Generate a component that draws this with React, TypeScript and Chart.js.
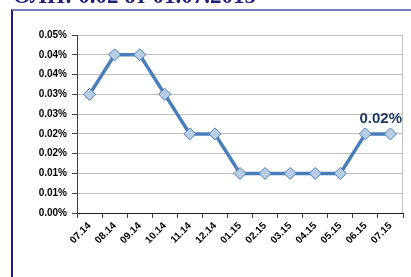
import React, { useEffect, useRef } from "react";
import { Chart, registerables } from "chart.js";

Chart.register(...registerables);

const categories = ["07.14", "08.14", "09.14", "10.14", "11.14", "12.14", "01.15", "02.15", "03.15", "04.15", "05.15", "06.15", "07.15"];
const values = [0.03, 0.04, 0.04, 0.03, 0.02, 0.02, 0.01, 0.01, 0.01, 0.01, 0.01, 0.02, 0.02];
const yMin = 0;
const yMax = 0.045;
const yStep = 0.005;
const titleText = "ОЛП: 0.02 от 01.07.2015";
const lastLabel = "0.02%";

const fmt = (v: number) => (Math.round(v * 100 + 1e-6) / 100).toFixed(2) + "%";

const extrasPlugin = {
  id: "extras",
  afterDraw(chart: any) {
    const { ctx, chartArea } = chart;
    ctx.save();
    ctx.strokeStyle = "#BFBFBF";
    ctx.lineWidth = 1;
    ctx.beginPath();
    ctx.moveTo(Math.round(chartArea.right) - 0.5, chartArea.top);
    ctx.lineTo(Math.round(chartArea.right) - 0.5, chartArea.bottom);
    ctx.stroke();
    const meta = chart.getDatasetMeta(0);
    const pt = meta.data[meta.data.length - 1];
    ctx.font = "bold 15px Arial, 'Liberation Sans', sans-serif";
    ctx.fillStyle = "#1F3A60";
    ctx.textAlign = "center";
    ctx.textBaseline = "middle";
    const w = ctx.measureText(lastLabel).width;
    const x = Math.min(pt.x, chartArea.right - 1 - w / 2);
    ctx.fillText(lastLabel, x, pt.y - 15);
    ctx.restore();
  },
};

export default function App() {
  const ref = useRef<HTMLCanvasElement>(null);
  useEffect(() => {
    const chart = new Chart(ref.current as HTMLCanvasElement, {
      type: "line",
      data: {
        labels: categories,
        datasets: [
          {
            data: values,
            borderColor: "#4A7EBB",
            borderWidth: 3.5,
            pointStyle: "rectRot",
            pointRadius: 6,
            pointBackgroundColor: "#B9CDE5",
            pointBorderColor: "#4A7EBB",
            pointBorderWidth: 1,
            tension: 0,
          },
        ],
      },
      options: {
        responsive: false,
        animation: false,
        devicePixelRatio: 1,
        layout: { padding: { top: 35, right: 8, left: 0, bottom: 0 } },
        plugins: { legend: { display: false }, tooltip: { enabled: false }, title: { display: false } },
        scales: {
          x: {
            type: "category",
            offset: true,
            grid: { display: true, offset: true, drawOnChartArea: false, drawTicks: true, tickLength: 5, color: "#404040" },
            border: { display: true, color: "#202020", width: 1 },
            ticks: {
              color: "#000",
              font: { family: "Arial, 'Liberation Sans', sans-serif", size: 10, weight: "bold" },
              maxRotation: 45,
              minRotation: 45,
              padding: 2,
              autoSkip: false,
            },
            afterFit: (s: any) => {
              s.height = 64;
            },
          },
          y: {
            min: yMin,
            max: yMax,
            grid: { color: "#C0C0C0", tickColor: "#404040", tickLength: 5, drawTicks: true },
            border: { display: true, color: "#404040", width: 1 },
            ticks: {
              stepSize: yStep,
              color: "#000",
              padding: 5,
              font: { family: "Arial, 'Liberation Sans', sans-serif", size: 10, weight: "bold" },
              callback: (v: any) => fmt(Number(v)),
            },
            afterFit: (s: any) => {
              s.width = 77;
            },
          },
        },
      },
      plugins: [extrasPlugin],
    } as any);
    return () => chart.destroy();
  }, []);

  return (
    <div style={{ position: "fixed", left: 0, top: 0, width: 411, height: 277, overflow: "hidden", background: "#fff" }}>
      <div
        style={{
          position: "absolute",
          left: 11,
          top: 9,
          width: 420,
          height: 300,
          borderTop: "2px solid #7C7CBC",
          borderLeft: "2px solid #1C1C8C",
          background: "#fff",
        }}
      />
      <div
        style={{
          position: "absolute",
          left: 13,
          top: -16,
          height: 23,
          fontFamily: "'Liberation Serif', 'Times New Roman', serif",
          fontWeight: "bold",
          fontSize: 23,
          lineHeight: "23px",
          color: "#1F1F7A",
          whiteSpace: "nowrap",
          zIndex: 5,
        }}
      >
        {titleText}
      </div>
      <canvas ref={ref} width={411} height={277} style={{ position: "absolute", left: 0, top: 0 }} />
    </div>
  );
}
